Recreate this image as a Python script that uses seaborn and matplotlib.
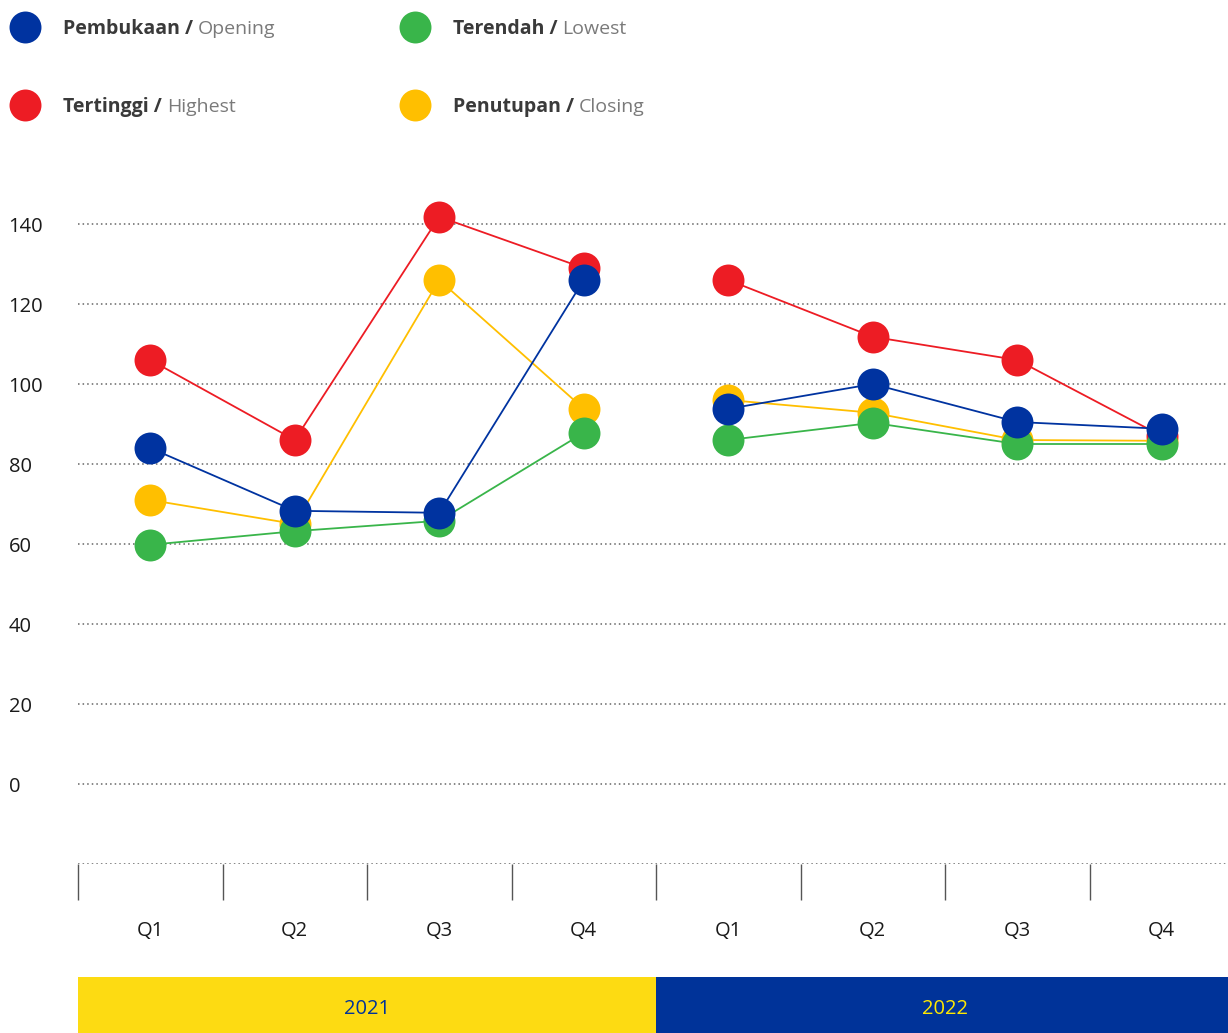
import matplotlib
matplotlib.use("Agg")
import matplotlib.pyplot as plt
import seaborn as sns
import pandas as pd
from matplotlib.lines import Line2D

# ---- data ----
quarters = ["Q1", "Q2", "Q3", "Q4", "Q1", "Q2", "Q3", "Q4"]
years = ["2021", "2022"]
opening = [84, 68.3, 67.8, 126, 93.8, 100, 90.5, 88.8]
highest = [106, 86, 141.8, 129, 126, 111.8, 106, 87]
lowest = [59.8, 63.2, 65.8, 87.8, 86, 90.3, 85, 85]
closing = [71, 65, 126, 93.8, 96, 92.8, 86, 85.8]
yticks_vals = [-20, 0, 20, 40, 60, 80, 100, 120, 140]
ytick_labels = ["", "0", "20", "40", "60", "80", "100", "120", "140"]

legend_items = [
    ("Pembukaan /", "Opening", "#0033A0"),
    ("Tertinggi /", "Highest", "#ED1C24"),
    ("Terendah /", "Lowest", "#39B54A"),
    ("Penutupan /", "Closing", "#FFBF00"),
]
colors = {"Closing": "#FFBF00", "Highest": "#ED1C24", "Lowest": "#39B54A", "Opening": "#0033A0"}
series = {"Opening": opening, "Highest": highest, "Lowest": lowest, "Closing": closing}

rows = []
for name, vals in series.items():
    for i, v in enumerate(vals):
        rows.append({"pos": i, "value": v, "series": name, "year": years[i // 4]})
df = pd.DataFrame(rows)

sns.set_theme(style="white")
plt.rcParams["font.family"] = ["Open Sans", "DejaVu Sans"]

W, H = 1228, 1033
fig = plt.figure(figsize=(W / 100, H / 100), dpi=100)

def fx(px):
    return px / W

def fy(py):
    return 1 - py / H

ymin, ymax = -20, 150
ax_bottom = 864
ax_top = 784 - ymax * 4
ax_left = 78
ax_width = 8 * 144.5
ax = fig.add_axes([fx(ax_left), fy(ax_bottom), ax_width / W, (ax_bottom - ax_top) / H])

hue_order = ["Closing", "Highest", "Lowest", "Opening"]
for name in hue_order:
    sub = df[df.series == name]
    for yr in years:
        s = sub[sub.year == yr]
        sns.lineplot(data=s, x="pos", y="value", ax=ax, color=colors[name],
                     linewidth=1.3, marker="o", markersize=23, markeredgewidth=0,
                     estimator=None, legend=False)

ax.set_xlim(-0.5, 7.5)
ax.set_ylim(ymin, ymax)
ax.set_xlabel("")
ax.set_ylabel("")
for sp in ax.spines.values():
    sp.set_visible(False)

ax.set_yticks(yticks_vals)
ax.set_yticklabels(ytick_labels)
ax.tick_params(axis="y", length=0, pad=50, labelsize=14.5, labelcolor="#1a1a1a")
for lab in ax.get_yticklabels():
    lab.set_horizontalalignment("left")
ax.yaxis.grid(True, color="#666666", linestyle=(0, (1, 2.0)), linewidth=1.1)
ax.set_axisbelow(True)

ax.set_xticks(range(8))
ax.set_xticklabels(quarters)
ax.set_xticks([i - 0.5 for i in range(8)], minor=True)
ax.tick_params(axis="x", which="major", length=0, pad=41, labelsize=14.5, labelcolor="#1a1a1a")
ax.tick_params(axis="x", which="minor", length=26, width=1, color="#555555", direction="out")
ax.tick_params(axis="x", bottom=True, which="both")
ax.xaxis.grid(False)

# year band
ax2 = fig.add_axes([fx(ax_left), 0, ax_width / W, 56 / H])
ax2.set_xlim(-0.5, 7.5)
ax2.set_ylim(0, 1)
ax2.axvspan(-0.5, 3.5, color="#FDDB12", lw=0)
ax2.axvspan(3.5, 7.5, color="#003399", lw=0)
ax2.text(1.5, 0.43, years[0], ha="center", va="center", fontsize=14.5, color="#003399")
ax2.text(5.5, 0.43, years[1], ha="center", va="center", fontsize=14.5, color="#FFE800")
ax2.axis("off")

# legend
positions = [(25, 27), (25, 105), (415, 27), (415, 105)]
fig.canvas.draw()
renderer = fig.canvas.get_renderer()
for (bold, light, c), (mx, my) in zip(legend_items, positions):
    fig.add_artist(Line2D([fx(mx)], [fy(my)], marker="o", markersize=23, markeredgewidth=0,
                          color=c, transform=fig.transFigure))
    t = fig.text(fx(mx + 38), fy(my + 2), bold, fontsize=14, fontweight="bold",
                 color="#3a3a3a", va="center", ha="left")
    bb = t.get_window_extent(renderer=renderer)
    fig.text((bb.x1 + 5) / W, fy(my + 2), light, fontsize=14, color="#7a7a7a",
             va="center", ha="left")

fig.savefig("out.png", dpi=100)
